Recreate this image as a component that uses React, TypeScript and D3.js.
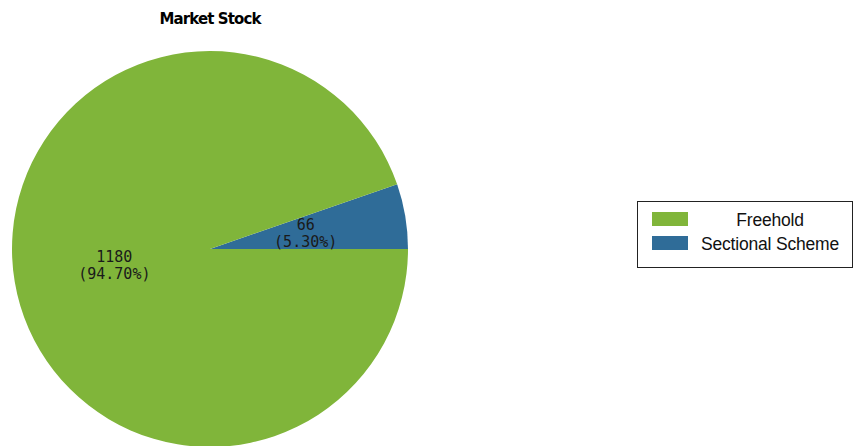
import { useEffect, useRef } from 'react'
import * as d3 from 'd3'

const categories = ['Freehold', 'Sectional Scheme']
const counts = [1180, 66]
const percentLabels = ['94.70%', '5.30%']
const colors = ['#80b53a', '#2f6c98']
const title = 'Market Stock'

const W = 854
const H = 446

const App = () => {
  const svgRef = useRef<SVGSVGElement | null>(null)

  useEffect(() => {
    if (!svgRef.current) return
    const svg = d3.select(svgRef.current)
    svg.selectAll('*').remove()

    const cx = 210
    const cy = 249
    const r = 198

    svg
      .append('text')
      .attr('x', cx)
      .attr('y', 24)
      .attr('text-anchor', 'middle')
      .style('font-family', 'DejaVu Sans, Verdana, sans-serif')
      .style('font-weight', 'bold')
      .style('font-size', '15px')
      .style('letter-spacing', '-0.9px')
      .text(title)

    // Sectional Scheme starts at 3 o'clock and goes counter-clockwise
    const total = d3.sum(counts)
    const order = [1, 0]
    let acc = Math.PI / 2
    const slices = order.map(i => {
      const span = (counts[i] / total) * 2 * Math.PI
      const s = { i, startAngle: acc - span, endAngle: acc }
      acc -= span
      return s
    })

    const arc = d3.arc<{ startAngle: number; endAngle: number }>().innerRadius(0).outerRadius(r)
    const labelArc = d3
      .arc<{ startAngle: number; endAngle: number }>()
      .innerRadius(r * 0.49)
      .outerRadius(r * 0.49)

    const g = svg.append('g').attr('transform', `translate(${cx},${cy})`)

    g.selectAll('path')
      .data(slices)
      .enter()
      .append('path')
      .attr('d', d => arc(d) as string)
      .attr('fill', d => colors[d.i])

    const labels = g
      .selectAll('text')
      .data(slices)
      .enter()
      .append('text')
      .attr('transform', d => {
        const [x, y] = labelArc.centroid(d)
        return `translate(${x},${y})`
      })
      .attr('text-anchor', 'middle')
      .style('font-family', 'DejaVu Sans Mono, monospace')
      .style('font-size', '15px')
      .attr('fill', '#1a1a1a')

    labels
      .append('tspan')
      .attr('x', 0)
      .attr('y', -3)
      .text(d => String(counts[d.i]))
    labels
      .append('tspan')
      .attr('x', 0)
      .attr('y', 14)
      .text(d => `(${percentLabels[d.i]})`)

    // legend
    const lx = 637
    const ly = 201
    const lg = svg.append('g')
    lg.append('rect')
      .attr('x', lx + 0.5)
      .attr('y', ly + 0.5)
      .attr('width', 215)
      .attr('height', 66)
      .attr('fill', 'white')
      .attr('stroke', '#222')
      .attr('stroke-width', 1)

    categories.forEach((c, i) => {
      lg.append('rect')
        .attr('x', lx + 15)
        .attr('y', ly + 11 + i * 24)
        .attr('width', 36)
        .attr('height', 14)
        .attr('fill', colors[i])
      lg.append('text')
        .attr('x', 770)
        .attr('y', ly + 25 + i * 24)
        .attr('text-anchor', 'middle')
        .style('font-family', 'Liberation Sans, Arial, sans-serif')
        .style('font-size', '17.5px')
        .style('letter-spacing', '-0.2px')
        .attr('fill', '#111')
        .text(c)
    })
  }, [])

  return (
    <svg
      ref={svgRef}
      width={W}
      height={H}
      style={{ position: 'absolute', left: 0, top: 0, background: 'white' }}
    />
  )
}

export default App
